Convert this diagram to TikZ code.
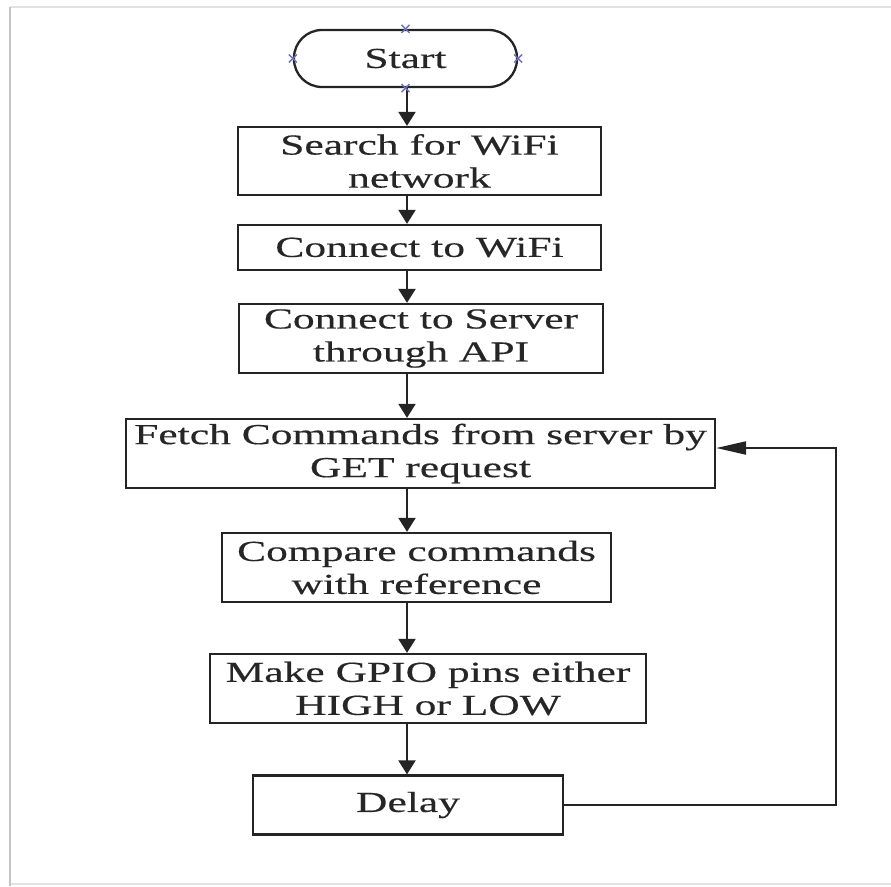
\documentclass[tikz,border=0pt]{standalone}
\usepackage{fontspec}
\setmainfont[FakeStretch=1.5,FakeBold=0.4]{Liberation Serif}
\usetikzlibrary{arrows.meta}
\definecolor{ink}{HTML}{242424}
\definecolor{txt}{HTML}{262626}
\definecolor{handlec}{RGB}{110,110,190}
\definecolor{framea}{HTML}{C4C4C4}
\definecolor{frameb}{HTML}{E2E2E2}
\tikzset{
  stepbox/.style={draw=ink, line width=2.3pt, text=txt, inner sep=0pt, align=center,
     font=\fontsize{29}{33}\selectfont},
  termbox/.style={stepbox, rounded corners=28pt},
  flow/.style={draw=ink, line width=2.2pt, -{Triangle[width=17pt,length=14pt]}},
  back/.style={draw=ink, line width=2.2pt, -{Triangle[width=13pt,length=30pt]}},
  handle/.style={draw=handlec, line width=1.3pt},
}
\begin{document}
\begin{tikzpicture}[x=1pt,y=-1pt]
\useasboundingbox (0,0) rectangle (891,886);
% page frame
\draw[frameb, line width=2pt] (10,7) -- (891,7);
\draw[frameb, line width=2pt] (10,884) -- (891,884);
\draw[framea, line width=2.5pt] (10,7) -- (10,886);

\node[termbox, minimum width=223pt, minimum height=57pt] (start) at (405.5,58.5) {Start};
\node[stepbox, minimum width=363pt, minimum height=68pt] (search) at (419.5,161) {Search for WiFi\\network};
\node[stepbox, minimum width=363pt, minimum height=45pt] (wifi) at (419.5,247.5) {Connect to WiFi};
\node[stepbox, minimum width=364pt, minimum height=69pt] (server) at (421,338.5) {Connect to Server\\through API};
\node[stepbox, minimum width=589pt, minimum height=69pt] (fetch) at (420.5,453.5) {Fetch Commands from server by\\GET request};
\node[stepbox, minimum width=389pt, minimum height=69pt] (compare) at (416.5,567.5) {Compare commands\\with reference};
\node[stepbox, minimum width=436pt, minimum height=69pt] (gpio) at (428,688.5) {Make GPIO pins either\\HIGH or LOW};
\node[stepbox, minimum width=310pt, minimum height=59pt] (delay) at (408,805) {Delay};

\coordinate (ax) at (407,0);
\coordinate (loopc) at (836,448);

\draw[flow] (start.south -| ax) -- (search.north -| ax);
\draw[flow] (search.south -| ax) -- (wifi.north -| ax);
\draw[flow] (wifi.south -| ax) -- (server.north -| ax);
\draw[flow] (server.south -| ax) -- (fetch.north -| ax);
\draw[flow] (fetch.south -| ax) -- (compare.north -| ax);
\draw[flow] (compare.south -| ax) -- (gpio.north -| ax);
\draw[flow] (gpio.south -| ax) -- (delay.north -| ax);
\draw[back] (delay.east) -| (loopc) -- (fetch.east |- loopc);

% selection handles on the terminal
\foreach \a in {north,south,east,west}{
  \draw[handle] ([shift={(-4,-4)}]start.\a) -- ([shift={(4,4)}]start.\a);
  \draw[handle] ([shift={(-4,4)}]start.\a) -- ([shift={(4,-4)}]start.\a);
}
\end{tikzpicture}
\end{document}
